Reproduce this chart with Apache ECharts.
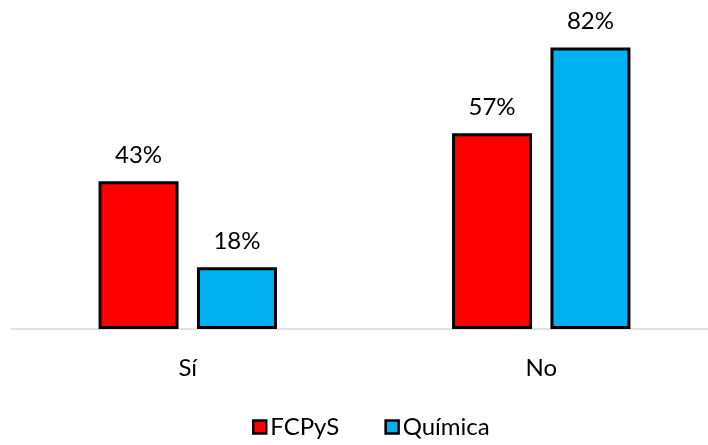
<!DOCTYPE html>
<html>
<head>
<meta charset="utf-8">
<script src="https://cdn.jsdelivr.net/npm/echarts@6/dist/echarts.min.js"></script>
<style>
  html, body { margin: 0; padding: 0; background: #fff; }
  #chart { width: 708px; height: 445px; }
</style>
</head>
<body>
<div id="chart"></div>
<script>
// Answer categories and percentage of respondents per group
const categories = ['Sí', 'No'];
const fcpysValues = [43, 57];
const quimicaValues = [18, 82];
const seriesNames = ['FCPyS', 'Química'];

const FONT = 'Lato, "Open Sans", sans-serif';

const chart = echarts.init(document.getElementById('chart'));

function barSeries(name, data, color) {
  return {
    name: name,
    type: 'bar',
    data: data,
    barWidth: 80,
    barGap: '23%',
    itemStyle: { color: color, borderColor: '#000', borderWidth: 3 },
    label: {
      show: true,
      position: 'top',
      distance: 14,
      formatter: p => p.value + '%',
      fontFamily: FONT,
      fontSize: 24,
      color: '#000'
    }
  };
}

chart.setOption({
  animation: false,
  backgroundColor: '#fff',
  grid: { left: 11, width: 707, top: 20, bottom: 116, outerBoundsMode: 'none', containLabel: false },
  legend: {
    bottom: 1,
    left: 247,
    itemWidth: 13,
    itemHeight: 13,
    itemGap: 45,
    icon: 'rect',
    itemStyle: { borderColor: '#000', borderWidth: 2.5 },
    textStyle: { fontFamily: FONT, fontSize: 24, color: '#000', padding: [0, 0, 0, -1] },
    data: seriesNames
  },
  xAxis: {
    type: 'category',
    data: categories,
    axisLine: { lineStyle: { color: '#D9D9D9', width: 1.5 } },
    axisTick: { show: false },
    axisLabel: { fontFamily: FONT, fontSize: 24, color: '#000', margin: 27 }
  },
  yAxis: {
    type: 'value',
    min: 0,
    max: 90,
    show: false,
    splitLine: { show: false }
  },
  series: [
    barSeries(seriesNames[0], fcpysValues, '#FF0000'),
    barSeries(seriesNames[1], quimicaValues, '#00B0F0')
  ]
});
</script>
</body>
</html>
